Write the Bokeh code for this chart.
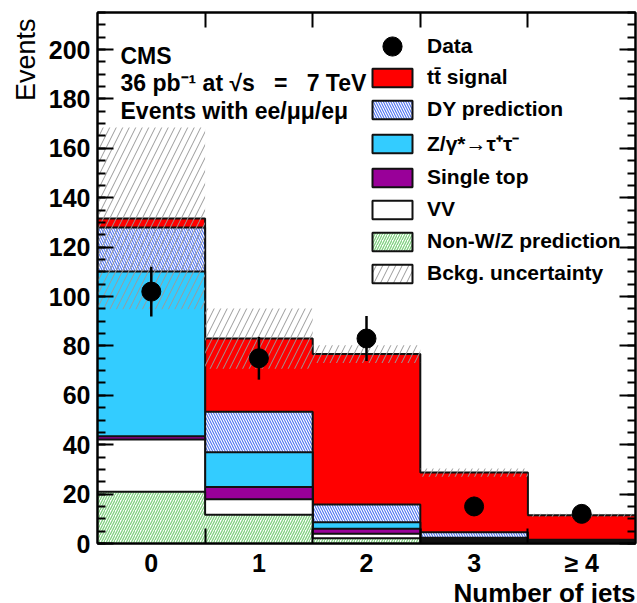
import numpy as np
from bokeh.plotting import figure
from bokeh.models import (Range1d, LinearAxis, SingleIntervalTicker, FixedTicker,
                          Label, Legend, LegendItem, Title)
from bokeh.embed import file_html
from bokeh.resources import INLINE

# jet multiplicity bins
n_jets = [0, 1, 2, 3, 4]
jet_labels = ["0", "1", "2", "3", "≥ 4"]

# expected yields per bin (stacked from the bottom up)
non_wz = [21.0, 11.6, 2.1, 0.5, 0.3]
vv = [21.1, 6.3, 1.8, 0.5, 0.2]
single_top = [1.3, 5.0, 2.1, 0.8, 0.5]
z_tautau = [66.7, 14.0, 2.6, 0.5, 0.2]
dy = [17.8, 16.4, 7.2, 2.3, 0.3]
ttbar = [3.7, 29.7, 60.9, 24.1, 9.9]

# background uncertainty (symmetric, around the total)
bkg_unc = [36.8, 12.2, 3.6, 1.7, 0.6]

# observed events
data = [102, 75, 83, 15, 12]

FONT = "Liberation Sans"
LINE = "#111111"

centers = np.array(n_jets, dtype=float)
edges = np.append(centers - 0.5, centers[-1] + 0.5)

p = figure(width=637, height=603, output_backend="svg", toolbar_location=None,
           x_range=Range1d(edges[0], edges[-1]), y_range=Range1d(0, 215),
           min_border_left=97, min_border_right=2, min_border_top=12,
           min_border_bottom=59)
p.xgrid.visible = False
p.ygrid.visible = False
p.outline_line_color = "black"
p.outline_line_width = 2
p.background_fill_color = "white"
p.border_fill_color = "white"


def step_polygon(levels):
    xs = [edges[0]]
    ys = [0.0]
    for i, v in enumerate(levels):
        xs += [edges[i], edges[i + 1]]
        ys += [v, v]
    xs.append(edges[-1])
    ys.append(0.0)
    return xs, ys


layers = [
    ("Non-W/Z prediction", non_wz, dict(fill_color="white", hatch_pattern="/",
                                         hatch_color="#80d080", hatch_scale=5, hatch_weight=1.3)),
    ("VV", vv, dict(fill_color="white")),
    ("Single top", single_top, dict(fill_color="#990099")),
    ("Z/γ*→τ⁺τ⁻", z_tautau, dict(fill_color="#33ccff")),
    ("DY prediction", dy, dict(fill_color="white", hatch_pattern="\\",
                               hatch_color="#4f73f0", hatch_scale=5, hatch_weight=1.1)),
    ("tt̄ signal", ttbar, dict(fill_color="#ff0000")),
]

cum = np.zeros(len(n_jets))
cumulative = []
for name, vals, style in layers:
    cum = cum + np.array(vals)
    cumulative.append((name, cum.copy(), style))

renderers = {}
# draw from the top of the stack down, each layer filled from zero
for name, levels, style in reversed(cumulative):
    xs, ys = step_polygon(levels)
    r = p.patch(xs, ys, line_color=LINE, line_width=2, **style)
    renderers[name] = r

total = cumulative[-1][1]
unc = np.array(bkg_unc)
band_style = dict(hatch_pattern="/", hatch_color="#9a9a9a", hatch_scale=13, hatch_weight=1)
p.quad(left=edges[:-1], right=edges[1:], bottom=total - unc, top=total + unc,
       fill_color="white", fill_alpha=0, line_color=None, **band_style)
# outlined copy of the band style for the legend swatch (zero-size, at the origin corner)
band_key = p.quad(left=edges[:1], right=edges[:1], bottom=[0], top=[0],
                  fill_color="white", line_color=LINE, line_width=2, **band_style)

d = np.array(data, dtype=float)
err = np.sqrt(d)
p.segment(x0=centers, y0=d - err, x1=centers, y1=d + err, line_color="black", line_width=2.5)
pts = p.scatter(x=centers, y=d, size=19, marker="circle", fill_color="black", line_color="black")

# axes
y_ticker = SingleIntervalTicker(interval=20, num_minor_ticks=4)
x_ticker = FixedTicker(ticks=list(centers), minor_ticks=list(edges[1:-1]))

bottom = p.below[0]
left = p.left[0]
bottom.ticker = x_ticker
left.ticker = y_ticker
bottom.major_label_overrides = {int(c): lab for c, lab in zip(n_jets, jet_labels)}

right = LinearAxis(ticker=y_ticker)
above = LinearAxis(ticker=x_ticker)
p.add_layout(right, "right")
p.add_layout(above, "above")

for ax in [left, right]:
    ax.major_tick_in = 16
    ax.major_tick_out = 0
    ax.minor_tick_in = 8
    ax.minor_tick_out = 0
for ax in [bottom, above]:
    ax.major_tick_in = 0
    ax.major_tick_out = 0
    ax.minor_tick_in = 15
    ax.minor_tick_out = 0

for ax in [bottom, left, right, above]:
    ax.axis_line_color = "black"
    ax.axis_line_width = 2
    ax.major_tick_line_color = "black"
    ax.major_tick_line_width = 2
    ax.minor_tick_line_color = "black"
    ax.minor_tick_line_width = 2
    ax.major_label_text_font = FONT
    ax.major_label_text_font_style = "bold"
    ax.major_label_text_color = "black"
    ax.major_label_text_font_size = "25px"

for ax in [right, above]:
    ax.major_label_text_font_size = "0px"
    ax.major_label_standoff = 0

left.major_label_standoff = 7
bottom.major_label_standoff = 5

# axis titles, aligned to the far ends of the axes
p.add_layout(Title(text="Events", align="right", text_font=FONT, text_font_size="27px",
                   text_font_style="normal", text_color="black", standoff=9, offset=6),
             "left")
p.add_layout(Title(text="Number of jets", align="right", text_font=FONT,
                   text_font_size="26px", text_font_style="bold", text_color="black",
                   standoff=-8, offset=0),
             "below")

# experiment / dataset captions
nb = "\u00a0"
captions = ["CMS", f"36 pb⁻¹ at √s {nb}{nb}={nb}{nb} 7 TeV", "Events with ee/μμ/eμ"]
for i, txt in enumerate(captions):
    p.add_layout(Label(x=23, y=488 - 27.5 * i, x_units="screen", y_units="screen",
                       text=txt, text_font=FONT, text_font_style="bold",
                       text_font_size="23px", text_color="black",
                       text_baseline="alphabetic"))

legend_text = dict(label_text_font=FONT, label_text_font_style="bold",
                   label_text_font_size="21px", label_text_color="black",
                   label_text_baseline="middle", padding=0, margin=0,
                   border_line_color=None, background_fill_alpha=0, label_standoff=10)

# data entry on its own, so the marker keeps a readable size
data_legend = Legend(items=[LegendItem(label="Data", renderers=[pts])],
                     location=(270, 473), glyph_width=50, glyph_height=48, **legend_text)

items = []
for name in ["tt̄ signal", "DY prediction", "Z/γ*→τ⁺τ⁻", "Single top", "VV",
             "Non-W/Z prediction"]:
    items.append(LegendItem(label=name, renderers=[renderers[name]]))
items.append(LegendItem(label="Bckg. uncertainty", renderers=[band_key]))

legend = Legend(items=items, location=(270, 258), glyph_width=50, glyph_height=23,
                spacing=8, **legend_text)
p.add_layout(data_legend)
p.add_layout(legend)

open("out.html", "w").write(file_html(p, INLINE))
